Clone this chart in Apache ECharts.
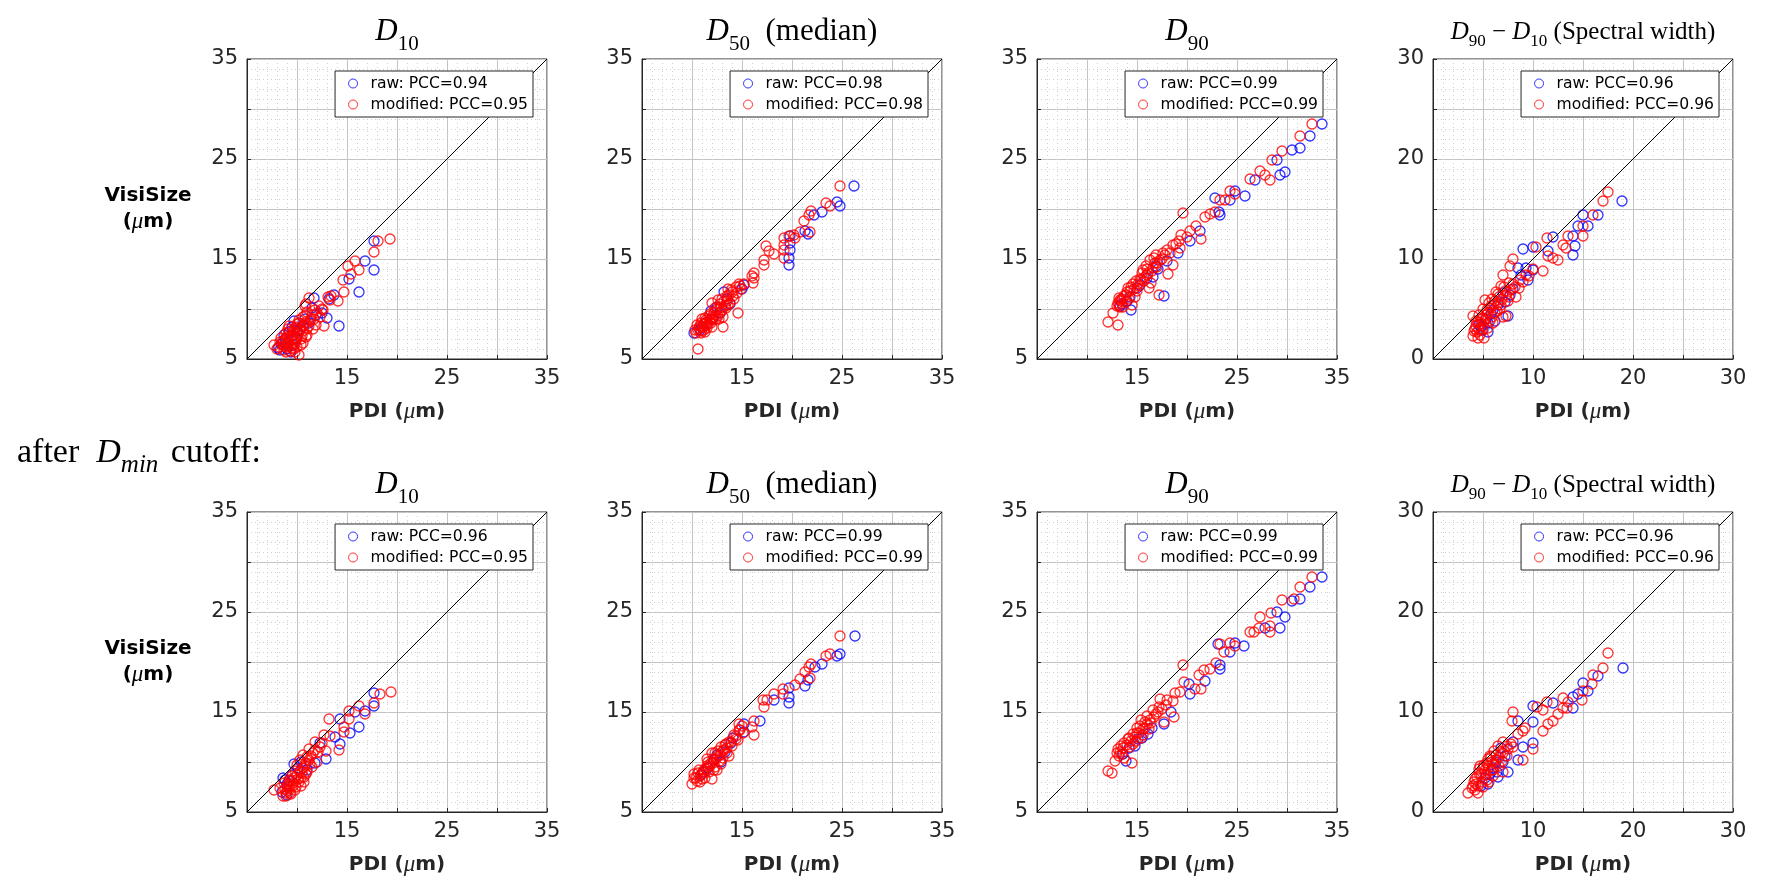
<!DOCTYPE html>
<html>
<head>
<meta charset="utf-8">
<title>VisiSize vs PDI</title>
<script src="https://cdn.jsdelivr.net/npm/echarts@6/dist/echarts.min.js"></script>
<style>
  html, body { margin: 0; padding: 0; background: #fff; }
  #main { width: 1766px; height: 893px; }
</style>
</head>
<body>
<div id="main"></div>
<script>
// ---- data: [PDI, VisiSize] pairs ----
// top row (all drops)
var d10Raw = [[17.7,16.8],[16.8,14.8],[17.7,13.9],[16.2,11.7],[15.2,13.0],[13.7,11.4],[13.2,11.0],[11.7,11.1],[14.2,8.3],[13.0,9.1],[11.5,10.1],[11.9,9.4],[9.7,8.8],[8.3,5.9],[8.7,7.4],[9.0,6.0],[9.5,8.2],[10.3,8.0],[10.8,9.0],[9.9,7.0],[8.9,6.6],[9.4,5.7],[12.5,9.6],[11.2,8.6],[8.8,7.0],[9.2,7.7],[8.4,6.5],[10.0,7.8],[10.6,8.3],[8.1,6.1],[9.6,6.4]];
var d10Mod = [[19.3,17.0],[18.1,16.8],[17.7,15.7],[15.8,14.8],[16.2,13.9],[15.1,14.3],[15.4,13.5],[14.6,12.9],[14.7,11.7],[14.1,10.8],[13.4,11.3],[13.1,11.2],[13.3,10.9],[11.2,11.1],[10.8,10.3],[12.2,10.3],[12.5,10.0],[11.8,9.9],[12.7,8.3],[12.0,9.6],[11.5,9.4],[11.0,9.7],[11.4,9.0],[10.6,9.2],[10.2,8.9],[10.8,8.6],[11.2,8.3],[10.4,8.2],[10.0,8.5],[9.8,8.0],[10.6,7.8],[10.1,7.6],[9.6,7.4],[9.3,7.8],[9.0,7.2],[9.5,6.9],[10.0,7.1],[10.4,7.0],[9.1,6.6],[8.8,6.9],[8.5,6.5],[8.9,6.2],[9.4,6.3],[9.8,6.5],[8.2,6.2],[7.7,6.4],[8.7,5.9],[10.2,5.4],[9.3,5.8],[10.6,6.6],[11.0,7.4],[9.7,6.0],[8.4,7.1],[9.2,8.3],[10.9,10.5],[11.6,8.0],
    [9.2,7.0],[9.6,7.7],[10.3,7.9],[10.7,8.4],[9.9,8.2],[9.4,7.3],[8.9,7.6],[8.6,6.8],[9.0,6.4],[9.9,6.8],[10.5,7.3],[11.0,8.0],[10.2,8.6],[9.7,7.1],[8.7,6.3],[8.3,6.7],[9.5,6.1],[10.0,6.2],[11.3,8.8],[10.8,9.3],[11.7,9.0],[12.3,9.2],[12.6,9.9],[9.1,8.0],[8.0,6.0],[8.9,5.7],[10.4,6.4],[9.8,5.7],[10.9,7.2],[11.9,8.4]];
var d50Raw = [[26.2,22.3],[24.5,20.7],[24.8,20.3],[23.0,19.7],[22.2,19.4],[21.3,17.8],[21.6,17.5],[19.8,17.3],[19.8,16.6],[19.8,15.9],[19.7,15.1],[19.7,14.4],[15.2,12.4],[13.2,11.7],[10.2,7.6],[15.0,12.0],[12.5,10.2],[11.4,8.6],[11.9,9.8],[13.8,10.5],[10.8,7.9],[11.0,8.2],[12.0,9.0],[12.8,9.6],[13.5,11.0]];
var d50Mod = [[24.8,22.3],[23.4,20.6],[23.8,20.3],[21.9,19.8],[21.7,19.4],[21.2,18.8],[21.8,17.7],[20.8,17.7],[20.2,17.4],[20.3,17.1],[19.2,17.1],[19.2,16.4],[19.2,15.9],[19.2,15.1],[19.7,17.3],[17.4,16.3],[17.7,15.8],[18.2,15.5],[17.2,14.9],[17.2,14.4],[16.2,13.6],[16.2,13.1],[16.0,13.3],[16.1,12.6],[14.7,12.5],[14.9,12.0],[14.6,9.6],[13.1,8.2],[14.4,12.2],[14.0,11.7],[13.7,11.4],[14.2,11.0],[13.5,10.8],[13.0,11.0],[13.3,10.3],[12.8,10.5],[12.5,10.0],[12.9,9.7],[12.2,9.6],[12.0,9.2],[12.4,9.0],[11.7,9.3],[11.4,8.9],[11.9,8.6],[11.2,8.5],[10.8,8.3],[11.5,8.1],[10.6,7.9],[10.9,7.6],[11.3,7.7],[10.4,7.6],[10.5,8.4],[11.0,9.0],[12.0,8.2],[10.6,6.0],[13.6,12.0],[12.6,10.9],[13.1,9.2],
    [11.1,8.2],[11.6,8.5],[12.1,8.9],[12.6,9.3],[13.0,9.9],[13.4,10.1],[13.8,10.6],[14.1,11.3],[14.5,11.6],[12.3,10.1],[11.8,9.5],[11.3,9.1],[10.9,8.6],[10.7,8.1],[11.5,8.7],[12.7,9.0],[13.2,10.8],[13.9,11.9],[12.9,10.2],[11.9,9.0],[10.9,7.8],[11.4,8.3],[12.4,9.4],[13.6,10.4],[14.8,12.3],[15.2,12.5],[10.3,7.9],[13.5,11.3],[12.0,10.6],[11.2,7.9]];
var d90Raw = [[33.5,28.5],[32.3,27.3],[31.3,26.1],[30.5,25.9],[29.0,24.9],[29.8,23.7],[29.3,23.4],[26.8,22.9],[22.8,21.1],[24.8,21.8],[25.8,21.3],[24.3,20.9],[23.3,19.4],[23.2,19.7],[21.3,17.8],[20.3,16.8],[19.1,15.6],[17.7,11.3],[14.4,9.9],[18.0,14.8],[16.6,13.2],[15.3,12.4],[14.3,11.2],[17.1,14.0],[13.5,10.5],[14.0,10.8],[15.0,12.1],[16.0,13.1],[16.9,14.3],[13.3,10.3]];
var d90Mod = [[32.5,28.5],[31.3,27.3],[29.5,25.8],[28.5,24.9],[27.3,23.8],[26.3,23.0],[28.3,22.9],[27.8,23.4],[24.3,21.8],[24.8,21.5],[23.8,20.9],[23.3,20.9],[22.8,19.7],[22.3,19.5],[21.8,19.2],[19.6,19.6],[20.9,18.3],[21.4,17.0],[20.3,17.8],[19.4,17.4],[20.0,17.2],[18.6,16.4],[19.3,16.1],[17.8,15.4],[18.6,14.4],[18.1,13.5],[16.8,14.6],[17.2,11.4],[16.4,12.6],[17.5,15.0],[17.0,14.2],[16.5,13.8],[16.0,13.4],[15.7,12.8],[16.2,12.1],[15.2,12.3],[15.5,13.6],[15.0,11.8],[14.6,12.5],[14.8,11.2],[14.1,12.1],[14.2,11.0],[13.7,11.3],[13.4,10.8],[13.1,10.6],[13.6,10.2],[12.6,9.6],[12.1,8.7],[13.1,8.4],[13.3,10.9],[13.2,10.4],[16.9,15.4],[18.0,15.9],[14.5,10.4],[16.3,14.9],[15.9,14.3],
    [13.5,11.0],[13.9,11.4],[14.3,11.8],[14.7,12.0],[15.1,12.5],[15.4,12.9],[15.8,13.2],[16.1,13.6],[16.6,14.1],[17.0,14.6],[17.3,14.9],[16.7,15.1],[15.6,13.9],[14.9,12.8],[14.4,12.2],[13.9,10.7],[13.3,10.2],[13.0,10.3],[13.2,11.1],[14.0,11.7],[15.3,13.0],[16.0,14.0],[17.6,15.6],[18.3,15.6],[18.9,16.5],[19.2,16.8]];
var swRaw = [[18.9,15.8],[15.0,14.4],[16.5,14.4],[15.5,13.3],[14.5,13.3],[14.0,12.3],[14.0,10.4],[14.2,11.3],[12.0,12.2],[9.0,11.0],[10.0,11.2],[11.5,10.8],[8.5,9.1],[10.0,8.9],[9.5,7.9],[7.7,6.4],[7.5,4.3],[5.0,2.9],[8.8,8.4],[6.5,5.4],[7.0,6.6],[5.8,4.5],[6.2,3.8],[9.3,9.1],[4.6,3.4],[5.5,3.6],[5.3,4.0],[6.0,4.9],[7.2,5.7],[4.8,3.2],[8.0,7.0],[5.5,2.7]];
var swMod = [[17.5,16.7],[17.0,15.8],[16.0,14.4],[15.0,13.3],[15.0,12.3],[13.5,12.3],[13.0,11.4],[13.3,11.1],[12.5,9.9],[12.0,10.1],[11.5,10.3],[11.4,12.1],[10.3,11.2],[8.0,10.0],[7.7,9.3],[11.0,8.8],[7.0,8.4],[8.7,7.9],[9.3,8.4],[9.0,7.7],[8.2,7.2],[7.6,7.6],[7.2,6.8],[6.8,7.3],[7.6,6.2],[6.6,6.2],[6.2,5.8],[7.0,4.2],[5.2,5.9],[5.8,5.3],[6.4,4.8],[5.5,4.6],[5.0,5.0],[5.9,4.2],[5.2,3.9],[4.6,4.4],[4.0,4.3],[4.8,3.5],[4.3,3.3],[5.5,3.1],[4.4,2.7],[4.0,2.3],[4.7,2.4],[5.1,2.1],[4.9,2.9],[6.0,3.6],[6.7,5.0],[8.3,6.2],[9.6,8.3],[10.0,9.0],[5.6,5.6],[7.3,4.3],[6.3,6.7],
    [4.5,3.7],[5.0,4.1],[5.4,4.9],[5.7,5.1],[6.1,5.4],[6.5,5.6],[6.9,6.0],[7.3,6.4],[7.8,6.9],[4.8,4.0],[5.3,4.4],[4.2,3.0],[4.6,2.9],[5.0,3.3],[5.7,3.8],[6.2,4.6],[6.8,5.4],[7.5,5.8],[8.6,7.1],[4.3,3.8],[5.9,6.0],[6.5,6.5],[7.1,7.2],[8.0,7.5],[4.1,2.8],[4.5,2.1]];

// bottom row (after D_min cutoff)
var d10RawCut = [[17.7,16.9],[17.7,15.6],[16.8,15.1],[15.8,15.0],[14.3,14.3],[16.2,13.5],[15.3,12.9],[13.8,12.5],[14.3,11.8],[12.9,10.3],[11.8,9.9],[12.3,11.9],[9.7,9.8],[8.6,8.4],[8.5,7.0],[10.4,10.0],[9.2,8.1],[11.0,9.2],[9.0,6.7],[9.0,7.8],[9.5,8.7],[10.1,9.4],[8.8,8.2]];
var d10ModCut = [[19.4,17.0],[18.3,16.8],[17.7,15.9],[16.2,15.6],[16.8,14.8],[15.2,15.1],[15.2,14.3],[14.7,13.5],[14.7,13.0],[13.2,14.3],[13.3,12.6],[12.7,12.7],[12.9,11.1],[14.2,11.2],[11.8,12.0],[11.6,10.9],[12.3,11.5],[11.2,11.3],[11.0,10.5],[10.6,10.7],[11.3,9.8],[10.8,9.6],[10.3,10.2],[10.0,9.7],[10.5,9.0],[10.9,8.8],[9.8,9.1],[9.5,8.6],[10.1,8.3],[9.2,8.2],[9.6,7.9],[10.4,7.6],[9.0,7.6],[8.7,7.9],[9.3,7.3],[8.6,6.6],[7.7,7.2],[8.9,6.9],[9.8,7.2],[10.7,8.0],[11.5,9.5],[12.0,10.0],[9.4,6.8],[8.3,7.4],[12.5,11.9],
    [9.1,7.8],[9.4,8.1],[9.7,8.4],[10.0,8.7],[10.3,9.1],[10.6,9.4],[10.9,9.9],[11.2,10.2],[9.0,7.1],[9.6,7.6],[10.2,8.0],[10.7,8.5],[11.0,9.0],[8.8,7.3],[9.3,6.9],[9.9,7.5],[10.4,8.4],[11.4,10.6],[11.8,11.2],[12.1,11.0],[9.2,7.5],[8.9,6.6]];
var d50RawCut = [[26.3,22.6],[24.8,20.8],[24.5,20.6],[23.0,19.8],[22.3,19.5],[21.3,17.6],[21.6,18.2],[19.7,17.4],[19.7,16.5],[19.7,15.9],[18.2,16.2],[16.8,14.1],[15.2,13.8],[15.2,13.0],[12.5,10.7],[13.9,11.9],[11.6,9.4],[10.9,8.7],[12.9,10.0],[11.2,9.0],[12.2,10.2],[13.3,11.0],[14.1,12.4]];
var d50ModCut = [[24.8,22.6],[23.4,20.6],[23.8,20.8],[21.9,19.8],[21.7,19.5],[21.3,19.0],[21.8,18.4],[20.8,18.3],[20.3,17.7],[19.1,17.3],[19.1,16.8],[18.2,16.8],[17.5,16.2],[17.1,16.2],[17.2,15.5],[16.2,14.1],[16.2,12.7],[16.0,13.5],[14.7,13.8],[14.7,13.2],[14.2,12.7],[13.7,12.0],[14.0,11.6],[13.4,11.8],[13.2,11.2],[12.9,11.5],[13.5,10.9],[12.6,10.6],[12.3,10.9],[12.8,10.1],[12.1,10.3],[11.8,9.8],[12.3,9.5],[11.5,9.6],[11.2,9.2],[11.7,9.0],[11.0,8.8],[10.6,8.9],[11.3,8.4],[10.5,8.1],[10.0,7.8],[10.2,8.8],[12.0,8.3],[10.8,8.0],[13.1,10.4],[14.4,12.3],[15.0,13.6],[12.5,9.2],
    [10.4,8.4],[10.8,8.6],[11.1,9.0],[11.4,9.3],[11.8,9.6],[12.1,9.9],[12.4,10.3],[12.8,10.7],[13.1,11.1],[13.5,11.4],[13.9,12.0],[14.4,12.6],[10.7,9.2],[11.6,10.0],[12.6,11.1],[13.3,11.7],[11.0,8.3],[12.2,9.2],[12.9,9.8],[13.7,10.6],[14.6,12.2],[10.2,8.4],[11.5,10.3],[12.0,10.9],[14.8,13.2],[15.1,12.9]];
var d90RawCut = [[33.5,28.5],[32.3,27.5],[31.3,26.3],[30.5,26.1],[29.0,25.0],[29.8,24.5],[29.3,23.4],[27.8,23.4],[25.7,21.6],[24.8,21.9],[23.1,21.8],[24.3,21.0],[23.3,19.7],[23.3,19.3],[21.8,18.1],[20.3,16.8],[20.2,17.8],[17.7,13.8],[16.1,12.8],[13.9,10.1],[15.5,12.4],[18.4,15.0],[14.8,11.6],[14.2,11.4],[15.1,12.3],[16.5,13.4],[13.6,10.8]];
var d90ModCut = [[32.5,28.5],[31.3,27.5],[29.5,26.2],[30.7,26.3],[27.3,24.5],[28.4,24.9],[28.3,23.6],[28.3,23.0],[27.2,23.4],[26.3,23.0],[26.7,23.0],[24.3,21.9],[23.3,21.8],[23.7,21.0],[24.8,21.6],[19.6,19.7],[22.9,19.9],[22.3,19.3],[21.7,19.2],[21.2,18.7],[20.8,17.3],[21.4,17.3],[19.7,18.0],[19.3,17.0],[18.8,16.9],[18.6,16.1],[17.3,16.3],[17.2,15.5],[16.6,15.2],[18.7,14.5],[17.7,14.0],[16.0,14.6],[16.4,13.9],[15.8,13.4],[15.3,13.6],[15.6,12.7],[15.0,12.9],[14.6,12.8],[14.9,12.1],[14.1,12.3],[14.3,11.5],[13.7,11.9],[13.1,11.3],[13.5,10.8],[12.8,10.1],[14.5,9.9],[12.1,9.1],[12.5,8.9],[13.2,10.6],[16.9,14.8],[17.9,15.7],[15.4,14.2],
    [13.3,11.0],[13.6,11.4],[14.0,11.7],[14.4,12.1],[14.8,12.5],[15.2,12.9],[15.6,13.3],[16.0,13.8],[16.3,14.2],[16.7,14.5],[17.1,15.0],[13.4,11.6],[14.2,12.4],[15.0,13.4],[15.8,14.0],[14.6,11.8],[15.4,12.4],[16.2,13.3],[13.0,10.9],[13.7,10.4],[17.5,15.3],[18.0,16.2]];
var swRawCut = [[19.0,14.4],[16.5,13.6],[15.5,12.1],[15.0,12.9],[14.0,11.5],[14.0,10.4],[14.5,11.8],[12.0,10.9],[10.0,10.6],[10.0,9.0],[8.5,9.1],[10.0,6.9],[9.0,6.5],[8.5,5.2],[7.5,4.0],[6.5,3.5],[4.8,2.6],[8.0,7.0],[6.3,5.0],[5.7,3.8],[7.2,5.6],[6.8,6.4],[5.2,3.4],[6.0,4.4],[7.0,5.0],[5.5,2.8],[6.4,4.0]];
var swModCut = [[17.5,15.9],[17.0,14.4],[16.0,13.7],[15.9,12.8],[15.0,12.1],[14.9,11.2],[13.0,11.4],[13.5,11.0],[13.4,10.4],[13.0,10.4],[12.5,9.8],[12.0,9.1],[11.5,8.8],[11.0,8.1],[11.4,11.0],[11.0,10.2],[10.4,10.5],[10.0,6.3],[8.0,10.0],[7.9,9.1],[8.5,7.8],[9.0,8.1],[9.0,5.2],[8.0,6.5],[7.0,7.0],[7.0,4.0],[3.5,1.9],[4.5,1.9],[4.0,2.6],[7.5,6.3],[6.8,6.0],[6.3,5.7],[6.9,5.1],[5.8,5.5],[6.2,4.8],[5.4,4.9],[5.8,4.2],[5.0,4.4],[5.3,3.7],[4.6,3.9],[4.2,3.3],[4.9,3.0],[4.3,2.8],[5.6,3.0],[6.0,3.6],[6.5,6.6],[7.4,5.6],[9.2,8.4],[5.5,5.3],[4.7,4.6],
    [4.4,3.5],[4.8,3.8],[5.2,4.2],[5.5,4.6],[5.9,5.0],[6.3,5.2],[6.6,5.5],[7.0,5.9],[7.4,6.6],[4.1,3.0],[4.5,2.6],[5.0,2.5],[5.4,3.2],[6.0,4.2],[6.6,4.6],[4.6,4.3],[5.1,4.7],[5.7,5.6],[6.1,6.1],[7.8,6.8],[4.2,2.2],[3.9,2.4]];

// correlation coefficients shown in the legends
var pccRawTop = ['0.94', '0.98', '0.99', '0.96'];
var pccModTop = ['0.95', '0.98', '0.99', '0.96'];
var pccRawCut = ['0.96', '0.99', '0.99', '0.96'];
var pccModCut = ['0.95', '0.99', '0.99', '0.96'];

// axis ranges and tick labels per column
var axisMin = [5, 5, 5, 0];
var axisMax = [35, 35, 35, 30];
var xTickLabels = [[15, 25, 35], [15, 25, 35], [15, 25, 35], [10, 20, 30]];
var yTickLabels = [[5, 15, 25, 35], [5, 15, 25, 35], [5, 15, 25, 35], [0, 10, 20, 30]];

// ---- layout ----
var W = 1766;
var boxLeft = [247, 642, 1037, 1433];
var boxTop = [59, 512];
var boxSize = 300;
var tickFont = 'DejaVu Sans';
var mathFont = 'Liberation Serif';
var darkText = '#262626';

var rows = [
    { raw: [d10Raw, d50Raw, d90Raw, swRaw], mod: [d10Mod, d50Mod, d90Mod, swMod], pccRaw: pccRawTop, pccMod: pccModTop },
    { raw: [d10RawCut, d50RawCut, d90RawCut, swRawCut], mod: [d10ModCut, d50ModCut, d90ModCut, swModCut], pccRaw: pccRawCut, pccMod: pccModCut }
];

var titleRich = {
    i: { fontFamily: mathFont, fontStyle: 'italic', fontSize: 31, lineHeight: 38, color: '#000' },
    r: { fontFamily: mathFont, fontSize: 31, lineHeight: 38, color: '#000' },
    s: { fontFamily: mathFont, fontSize: 21, height: 14, verticalAlign: 'bottom', color: '#000' },
    ii: { fontFamily: mathFont, fontStyle: 'italic', fontSize: 25, lineHeight: 32, color: '#000' },
    rr: { fontFamily: mathFont, fontSize: 25, lineHeight: 32, color: '#000' },
    ss: { fontFamily: mathFont, fontSize: 17, height: 12, verticalAlign: 'bottom', color: '#000' }
};
// "after D_min cutoff:" is set a little larger than the titles
var noteRich = {
    i: { fontFamily: mathFont, fontStyle: 'italic', fontSize: 34, lineHeight: 40, color: '#000' },
    r: { fontFamily: mathFont, fontSize: 34, lineHeight: 40, color: '#000' },
    si: { fontFamily: mathFont, fontStyle: 'italic', fontSize: 25, height: 16, verticalAlign: 'bottom', color: '#000', padding: [0, 4, 0, 0] }
};
var titles = [
    '{i|D}{s|10}',
    '{i|D}{s|50}{r|  (median)}',
    '{i|D}{s|90}',
    '{ii|D}{ss|90}{rr| − }{ii|D}{ss|10}{rr| (Spectral width)}'
];

var labelRich = {
    b: { fontFamily: tickFont, fontWeight: 'bold', fontSize: 20, color: darkText, lineHeight: 26 },
    mu: { fontFamily: mathFont, fontStyle: 'italic', fontSize: 23, color: darkText, lineHeight: 26 }
};

var grids = [], xAxes = [], yAxes = [], series = [], legends = [], graphics = [];

function makeFormatter(labels) {
    return function (v) {
        return labels.indexOf(v) >= 0 ? String(v) : '';
    };
}

function openCircle(color) {
    return { color: 'rgba(0,0,0,0)', borderColor: color, borderWidth: 1.3 };
}

rows.forEach(function (row, r) {
    for (var c = 0; c < 4; c++) {
        var idx = r * 4 + c;
        var left = boxLeft[c], top = boxTop[r];
        grids.push({
            left: left, top: top, width: boxSize, height: boxSize,
            show: true, borderColor: darkText, borderWidth: 1
        });
        var common = {
            gridIndex: idx,
            type: 'value',
            min: axisMin[c],
            max: axisMax[c],
            interval: 5,
            axisLine: { show: true, lineStyle: { color: darkText, width: 1 } },
            axisTick: { show: true, inside: true, length: 4, lineStyle: { color: darkText } },
            splitLine: { show: true, lineStyle: { color: '#c4c4c4', width: 1 } },
            minorTick: { show: false, splitNumber: 5 },
            minorSplitLine: { show: true, lineStyle: { color: '#cfcfcf', width: 1, type: [1, 3] } }
        };
        xAxes.push(Object.assign({}, common, {
            axisLabel: {
                formatter: makeFormatter(xTickLabels[c]),
                fontFamily: tickFont, fontSize: 21, color: darkText, margin: 9,
                showMinLabel: true, showMaxLabel: true
            },
            name: '{b|PDI (}{mu|μ}{b|m)}',
            nameLocation: 'middle',
            nameGap: 40,
            nameTextStyle: { rich: labelRich }
        }));
        yAxes.push(Object.assign({}, common, {
            axisLabel: {
                formatter: makeFormatter(yTickLabels[c]),
                fontFamily: tickFont, fontSize: 21, color: darkText, margin: 9,
                showMinLabel: true, showMaxLabel: true
            }
        }));

        var rawName = 'raw: PCC=' + row.pccRaw[c];
        var modName = 'modified: PCC=' + row.pccMod[c];

        // 1:1 reference line
        series.push({
            type: 'line', xAxisIndex: idx, yAxisIndex: idx,
            data: [[axisMin[c], axisMin[c]], [axisMax[c], axisMax[c]]],
            showSymbol: false, silent: true,
            lineStyle: { color: '#000', width: 1 }, z: 3
        });
        series.push({
            name: rawName, type: 'scatter', xAxisIndex: idx, yAxisIndex: idx,
            data: row.raw[c], symbol: 'circle', symbolSize: 10,
            itemStyle: openCircle('#0000ff'), silent: true, z: 2
        });
        series.push({
            name: modName, type: 'scatter', xAxisIndex: idx, yAxisIndex: idx,
            data: row.mod[c], symbol: 'circle', symbolSize: 10,
            itemStyle: openCircle('#ff0000'), silent: true, z: 2
        });

        legends.push({
            orient: 'vertical',
            right: W - (left + boxSize) + 14,
            top: top + 12,
            selectedMode: false,
            itemWidth: 9, itemHeight: 9, itemGap: 4,
            backgroundColor: '#fff', borderColor: darkText, borderWidth: 1, borderRadius: 0,
            padding: [4, 5, 4, 13],
            textStyle: { fontFamily: tickFont, fontSize: 15.6, color: '#000', padding: [0, 0, 0, 8], lineHeight: 17 },
            data: [
                { name: rawName, icon: 'circle', itemStyle: { color: 'rgba(0,0,0,0)', borderColor: '#0000ff', borderWidth: 1 } },
                { name: modName, icon: 'circle', itemStyle: { color: 'rgba(0,0,0,0)', borderColor: '#ff0000', borderWidth: 1 } }
            ]
        });

        // panel title
        graphics.push({
            type: 'text', x: left + boxSize / 2, y: top - 27, silent: true,
            style: { text: titles[c], rich: titleRich, align: 'center', verticalAlign: 'middle' }
        });
    }
    // y axis name on the first column
    graphics.push({
        type: 'text', x: 148, y: boxTop[r] + boxSize / 2, silent: true,
        style: { text: '{b|VisiSize}\n{b|(}{mu|μ}{b|m)}', rich: labelRich, align: 'center', verticalAlign: 'middle' }
    });
});

graphics.push({
    type: 'text', x: 17, y: 453, silent: true,
    style: {
        text: '{r|after  }{i|D}{si|min}{r| cutoff:}',
        rich: noteRich, align: 'left', verticalAlign: 'middle'
    }
});

var myChart = echarts.init(document.getElementById('main'));
myChart.setOption({
    animation: false,
    backgroundColor: '#fff',
    grid: grids,
    xAxis: xAxes,
    yAxis: yAxes,
    legend: legends,
    series: series,
    graphic: graphics
});
window.addEventListener('resize', function () {
    myChart.resize();
});
</script>
</body>
</html>
